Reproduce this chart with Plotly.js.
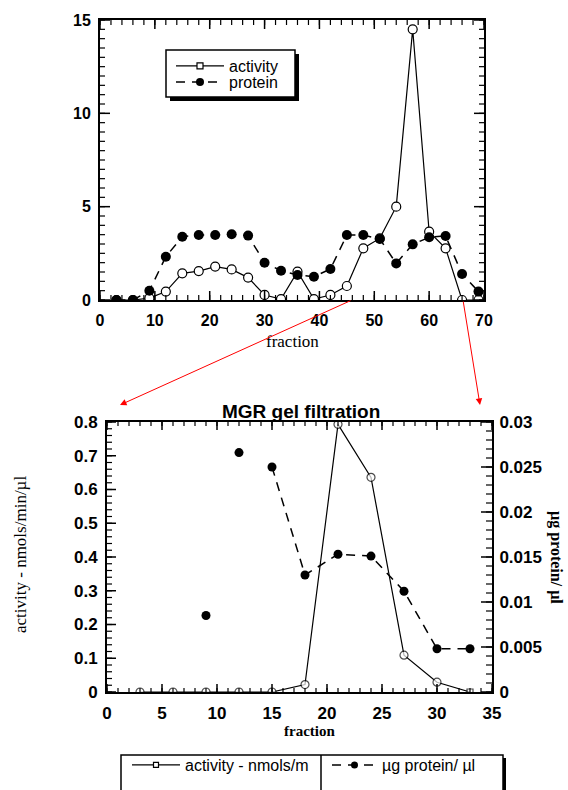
<!DOCTYPE html>
<html><head><meta charset="utf-8">
<script src="https://cdn.plot.ly/plotly-3.0.1.min.js"></script>
<style>html,body{margin:0;padding:0;background:#fff}</style>
</head><body><div id="chart" style="width:568px;height:790px"></div>
<script>
// ---- top panel data ----
const topFractions = [3,6,9,12,15,18,21,24,27,30,33,36,39,42,45,48,51,54,57,60,63,66,69];
const topActivity  = [0,0,0.1,0.45,1.43,1.55,1.79,1.64,1.2,0.27,0.05,1.52,0.05,0.27,0.75,2.77,3.3,5.0,14.5,3.66,2.77,0,0];
const topProtein   = [0,0,0.5,2.32,3.39,3.48,3.48,3.52,3.45,2.0,1.57,1.34,1.25,1.66,3.48,3.48,3.27,1.96,2.98,3.36,3.43,1.39,0.45];
const topXTicks = [0,10,20,30,40,50,60,70];
const topXTickLabels = ['0','10','20','30','40','50','60','70'];
const topYTicks = [0,5,10,15];
const topYTickLabels = ['0','5','10','15'];

// ---- bottom panel (MGR gel filtration) data ----
const gelFractions = [3,6,9,12,15,18,21,24,27,30,33];
const gelActivity  = [0,0,0,0,0,0.022,0.793,0.636,0.109,0.029,0];
const gelProteinFractions = [9,12,15,18,21,24,27,30,33];
const gelProtein = [0.0085,0.0266,0.025,0.013,0.0153,0.0151,0.0112,0.0048,0.0048];
const gelXTicks = [0,5,10,15,20,25,30,35];
const gelXTickLabels = ['0','5','10','15','20','25','30','35'];
const gelYTicks = [0,0.1,0.2,0.3,0.4,0.5,0.6,0.7,0.8];
const gelYTickLabels = ['0','0.1','0.2','0.3','0.4','0.5','0.6','0.7','0.8'];
const gelY2Ticks = [0,0.005,0.01,0.015,0.02,0.025,0.03];
const gelY2TickLabels = ['0','0.005','0.01','0.015','0.02','0.025','0.03'];

const W = 568, H = 790;
const ML = 100, MR = 76, MT = 20, MB = 98;
const PW = W - ML - MR, PH = H - MT - MB;
const dx = x => (x - ML) / PW;          // pixel x -> paper fraction
const dy = y => (H - MB - y) / PH;      // pixel y -> paper fraction
const SANS = 'Liberation Sans';
const SERIF = 'Liberation Serif';
const DASH = '9px,7px';

const traces = [
  {x: topFractions, y: topActivity, xaxis:'x', yaxis:'y', mode:'lines+markers', showlegend:false,
   line:{color:'black', width:1.2},
   marker:{symbol:'circle', size:9, color:'white', line:{color:'black', width:1.2}}},
  {x: topFractions, y: topProtein, xaxis:'x', yaxis:'y', mode:'lines+markers', showlegend:false,
   line:{color:'black', width:1.5, dash:DASH},
   marker:{symbol:'circle', size:10, color:'black'}},
  {x: gelProteinFractions.slice(2), y: gelProtein.slice(2), xaxis:'x2', yaxis:'y3', mode:'lines', showlegend:false,
   line:{color:'black', width:1.5, dash:DASH}},
  {x: gelProteinFractions, y: gelProtein, xaxis:'x2', yaxis:'y3', mode:'markers', showlegend:false,
   marker:{symbol:'circle', size:9, color:'black'}},
  {x: gelFractions, y: gelActivity, xaxis:'x2', yaxis:'y2', mode:'lines+markers', showlegend:false,
   line:{color:'black', width:1.2},
   marker:{symbol: gelFractions.map((f,i)=> i===gelFractions.length-1 ? 'square' : 'circle'),
           size: gelFractions.map((f,i)=> i===gelFractions.length-1 ? 6 : 8),
           color:'white', line:{color:'black', width:1.2}}},
  // legend entries
  {x:[null], y:[null], name:'activity', legend:'legend', mode:'lines+markers', xaxis:'x', yaxis:'y',
   line:{color:'black', width:1.2}, marker:{symbol:'square', size:6, color:'white', line:{color:'black', width:1.2}}},
  {x:[null], y:[null], name:'protein', legend:'legend3', mode:'lines+markers', xaxis:'x', yaxis:'y',
   line:{color:'black', width:1.5, dash:DASH}, marker:{symbol:'circle', size:8, color:'black'}},
  {x:[null], y:[null], name:'activity - nmols/m', legend:'legend2', mode:'lines+markers', xaxis:'x', yaxis:'y',
   line:{color:'black', width:1.2}, marker:{symbol:'square', size:5, color:'white', line:{color:'black', width:1.2}}},
  {x:[null], y:[null], name:'µg protein/ µl', legend:'legend4', mode:'lines+markers', xaxis:'x', yaxis:'y',
   line:{color:'black', width:1.5, dash:DASH}, marker:{symbol:'circle', size:7, color:'black'}}
];

function axisBase(fs, extra) {
  return Object.assign({
    ticks:'', showline:true, linewidth:2, linecolor:'black',
    showgrid:false, zeroline:false,
    tickfont:{family:SANS, size:fs, color:'black', weight:'bold'},
    tickmode:'array'
  }, extra);
}

// tick marks (inside), drawn as pixel-sized line shapes anchored on the axes
const tickShapes = [];
function steps(lo, hi, step) { const a = []; const n = Math.round((hi - lo) / step); for (let i = 0; i <= n; i++) a.push(Math.round((lo + i * step) * 1e6) / 1e6); return a; }
function xTicks(xref, yref, vals, anchorVal, len, dir, w) {
  vals.forEach(v => tickShapes.push({type:'line', xref:xref, yref:yref, x0:v, x1:v, ysizemode:'pixel', yanchor:anchorVal,
    y0:0, y1:dir * len, line:{color:'black', width:w}, layer:'above'}));
}
function yTicks(xref, yref, vals, anchorVal, len, dir, w) {
  vals.forEach(v => tickShapes.push({type:'line', xref:xref, yref:yref, y0:v, y1:v, xsizemode:'pixel', xanchor:anchorVal,
    x0:0, x1:dir * len, line:{color:'black', width:w}, layer:'above'}));
}
// top panel
xTicks('x', 'y', steps(0, 70, 2), 0, 5, 1, 1.2);   xTicks('x', 'y', topXTicks, 0, 9, 1, 1.5);
xTicks('x', 'y', steps(0, 70, 2), 15, 5, -1, 1.2); xTicks('x', 'y', topXTicks, 15, 9, -1, 1.5);
yTicks('x', 'y', steps(0, 15, 0.5), 0, 5, 1, 1.2); yTicks('x', 'y', topYTicks, 0, 10, 1, 1.5);
yTicks('x', 'y', steps(0, 15, 0.5), 70, 5, -1, 1.2); yTicks('x', 'y', topYTicks, 70, 10, -1, 1.5);
// bottom panel
xTicks('x2', 'y2', steps(0, 35, 1), 0, 4, 1, 1.2);   xTicks('x2', 'y2', gelXTicks, 0, 8, 1, 1.5);
xTicks('x2', 'y2', steps(0, 35, 1), 0.8, 4, -1, 1.2); xTicks('x2', 'y2', gelXTicks, 0.8, 8, -1, 1.5);
yTicks('x2', 'y2', steps(0, 0.8, 0.02), 0, 5, 1, 1.2); yTicks('x2', 'y2', gelYTicks, 0, 9, 1, 1.5);
yTicks('x2', 'y3', steps(0, 0.03, 0.001), 35, 6, -1, 1.2); yTicks('x2', 'y3', gelY2Ticks, 35, 11, -1, 1.5);

const legendBase = (x, y, iw) => ({
  x: dx(x), y: dy(y), xanchor:'left', yanchor:'middle',
  bgcolor:'rgba(0,0,0,0)', borderwidth:0, itemwidth: iw,
  font:{family:SANS, size:16, color:'black'}
});

const layout = {
  width: W, height: H,
  margin:{l:ML, r:MR, t:MT, b:MB, autoexpand:false},
  paper_bgcolor:'white', plot_bgcolor:'white',
  showlegend:true,
  xaxis: axisBase(16, {domain:[dx(100), dx(484)], anchor:'y', range:[0,70], tickvals:topXTicks, ticktext:topXTickLabels,
    mirror:true, ticklabelstandoff:5}),
  yaxis: axisBase(16, {domain:[dy(300), dy(20)], anchor:'x', range:[0,15], tickvals:topYTicks, ticktext:topYTickLabels,
    mirror:true, ticklabelstandoff:4}),
  xaxis2: axisBase(17, {domain:[dx(107), dx(492)], anchor:'y2', range:[0,35], tickvals:gelXTicks, ticktext:gelXTickLabels,
    mirror:true, ticklabelstandoff:5}),
  yaxis2: axisBase(17, {domain:[dy(692), dy(422)], anchor:'x2', range:[0,0.8], tickvals:gelYTicks, ticktext:gelYTickLabels,
    ticklabelstandoff:4}),
  yaxis3: axisBase(17, {overlaying:'y2', side:'right', anchor:'x2', range:[0,0.03], tickvals:gelY2Ticks, ticktext:gelY2TickLabels,
    ticklabelstandoff:2}),
  legend: legendBase(171, 66, 48),
  legend3: legendBase(171, 82, 48),
  legend2: legendBase(127, 765, 48),
  legend4: legendBase(327, 765, 45),
  shapes: tickShapes.concat([
    {type:'rect', xref:'paper', yref:'paper', x0:dx(170), x1:dx(299), y0:dy(54), y1:dy(101), fillcolor:'black', line:{width:0}, layer:'above'},
    {type:'rect', xref:'paper', yref:'paper', x0:dx(166), x1:dx(295), y0:dy(50), y1:dy(97), fillcolor:'white', line:{color:'black', width:1.5}, layer:'above'},
    {type:'rect', xref:'paper', yref:'paper', x0:dx(124), x1:dx(506), y0:dy(758), y1:dy(800), fillcolor:'black', line:{width:0}, layer:'above'},
    {type:'rect', xref:'paper', yref:'paper', x0:dx(121), x1:dx(503), y0:dy(755), y1:dy(800), fillcolor:'white', line:{color:'black', width:1.5}, layer:'above'},
    {type:'line', xref:'paper', yref:'paper', x0:dx(321), x1:dx(321), y0:dy(755), y1:dy(790), line:{color:'black', width:1.5}, layer:'above'}
  ]),
  annotations: [
    {text:'fraction', xref:'paper', yref:'paper', x:dx(292), y:dy(341), showarrow:false, xanchor:'center', yanchor:'middle',
     font:{family:SERIF, size:17, color:'black'}},
    {text:'MGR gel filtration', xref:'paper', yref:'paper', x:dx(301), y:dy(411), showarrow:false, xanchor:'center', yanchor:'middle',
     font:{family:SANS, size:19, color:'black', weight:'bold'}},
    {text:'activity - nmols/min/µl', xref:'paper', yref:'paper', x:dx(20), y:dy(555), showarrow:false, textangle:-90,
     xanchor:'center', yanchor:'middle', font:{family:SERIF, size:17, color:'black'}},
    {text:'µg protein/ µl', xref:'paper', yref:'paper', x:dx(556), y:dy(557), showarrow:false, textangle:90,
     xanchor:'center', yanchor:'middle', font:{family:SERIF, size:16, color:'black', weight:'bold'}},
    {text:'fraction', xref:'paper', yref:'paper', x:dx(309), y:dy(731), showarrow:false, xanchor:'center', yanchor:'middle',
     font:{family:SERIF, size:15, color:'black', weight:'bold'}},
    {text:'', xref:'paper', yref:'paper', x:dx(120), y:dy(405), ax:232, ay:-105, showarrow:true,
     arrowhead:2, arrowsize:1.3, arrowwidth:1, arrowcolor:'red', standoff:0},
    {text:'', xref:'paper', yref:'paper', x:dx(480), y:dy(405), ax:-17, ay:-105, showarrow:true,
     arrowhead:2, arrowsize:1.3, arrowwidth:1, arrowcolor:'red', standoff:0}
  ]
};

Plotly.newPlot('chart', traces, layout, {staticPlot:true});
</script>
</body></html>
